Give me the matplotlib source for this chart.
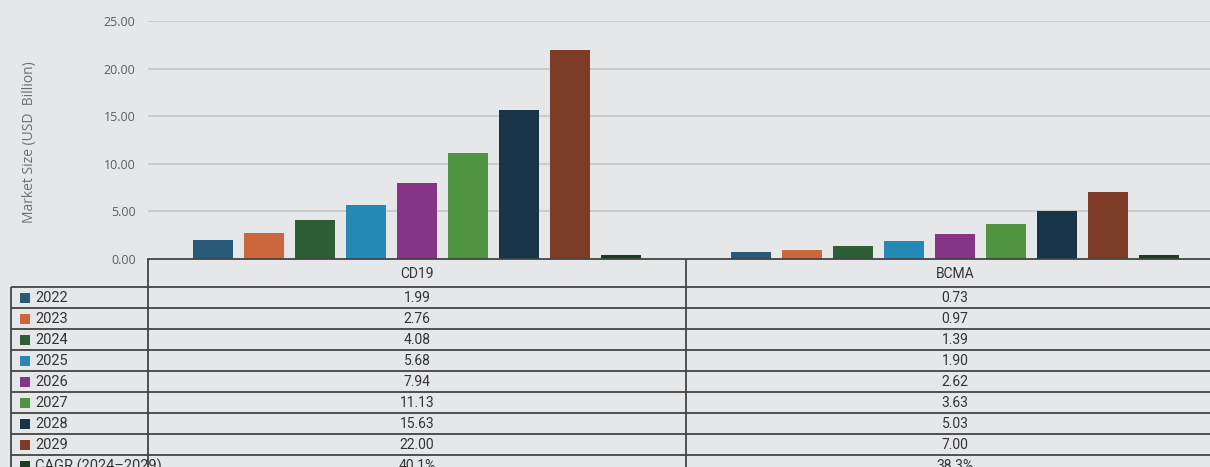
import matplotlib
matplotlib.use("Agg")
import matplotlib.pyplot as plt
from matplotlib.patches import Rectangle
import numpy as np

# ---- data -------------------------------------------------------------
categories = ["CD19", "BCMA"]
series_names = ["2022", "2023", "2024", "2025", "2026", "2027", "2028", "2029",
                "CAGR (2024\u20132029)"]
v2022 = [1.99, 0.73]
v2023 = [2.76, 0.97]
v2024 = [4.08, 1.39]
v2025 = [5.68, 1.90]
v2026 = [7.94, 2.62]
v2027 = [11.13, 3.63]
v2028 = [15.63, 5.03]
v2029 = [22.00, 7.00]
cagr_pct = [40.1, 38.3]
yticks = [0, 5, 10, 15, 20, 25]

series_values = [v2022, v2023, v2024, v2025, v2026, v2027, v2028, v2029,
                 [p / 100 for p in cagr_pct]]
series_labels = [[f"{v:.2f}" for v in s] for s in series_values[:-1]] + \
                [[f"{p:.1f}%" for p in cagr_pct]]
colors = ["#265a78", "#cc663d", "#2e5e35", "#2689b5", "#873487",
          "#4e9441", "#183449", "#7e3b27", "#1c3d22"]

BG = "#e6e7e9"
W, H = 1210, 467

fig = plt.figure(figsize=(W / 100, H / 100), dpi=100, facecolor=BG)

# ---- bar chart --------------------------------------------------------
ax_left, ax_right, ax_top, ax_bottom = 148, 1224, 21, 259
ax = fig.add_axes([ax_left / W, 1 - ax_bottom / H,
                   (ax_right - ax_left) / W, (ax_bottom - ax_top) / H])
ax.set_facecolor(BG)

x = np.arange(len(categories))
slot = 0.0948
bw = 0.0745
n = len(series_values)
for i, (vals, col) in enumerate(zip(series_values, colors)):
    ax.bar(x + (i - (n - 1) / 2) * slot, vals, width=bw, color=col,
           edgecolor="none", zorder=3)

ax.set_xlim(-0.5, 1.5)
ax.set_ylim(0, 25)
ax.set_yticks(yticks)
ax.set_yticklabels([f"{t:.2f}" for t in yticks], family="Open Sans",
                   fontsize=9, color="#5a5d61")
ax.set_xticks([])
ax.tick_params(axis="y", length=0, pad=9)
for t in yticks[1:]:
    ax.axhline(t, color="#c3c4c6", lw=1.1, zorder=1)
for s in ["top", "right", "left"]:
    ax.spines[s].set_visible(False)
ax.spines["bottom"].set_color("#444444")
ax.spines["bottom"].set_linewidth(1.3)
ax.spines["bottom"].set_zorder(4)

fig.text(30 / W, 1 - 142 / H, "Market Size (USD  Billion)", rotation=90,
         ha="center", va="center", family="Open Sans", fontsize=10,
         color="#6b6e72")

# ---- data table -------------------------------------------------------
tab = fig.add_axes([0, 0, 1, 1], facecolor="none")
tab.set_xlim(0, W)
tab.set_ylim(H, 0)
tab.axis("off")

line_kw = dict(color="#444444", lw=1.3, solid_capstyle="butt")
label_left = 11
col_edges = [148, 686, 1224]
header_top, header_bottom = 259, 286.5
row_h = 21.1
row_lines = [header_bottom + k * row_h for k in range(len(series_names) + 1)]

# horizontal rules
for yl in row_lines:
    tab.plot([label_left, col_edges[-1]], [yl, yl], **line_kw)
# vertical rules
for xe in col_edges:
    tab.plot([xe, xe], [header_top, H + 10], **line_kw)
tab.plot([label_left, label_left], [header_bottom, H + 10], **line_kw)

txt_kw = dict(family="Roboto", color="#333333", va="center")

# header with category names
for c, name in enumerate(categories):
    cx = (col_edges[c] + col_edges[c + 1]) / 2
    tab.text(cx, (header_top + header_bottom) / 2 + 1, name, ha="center",
             fontsize=10, **txt_kw)

# body rows
for r, (name, col, labels) in enumerate(zip(series_names, colors, series_labels)):
    yc = row_lines[r] + row_h / 2 + 0.5
    tab.add_patch(Rectangle((20, yc - 5), 10, 10, color=col, lw=0))
    tab.text(35, yc, name, ha="left", fontsize=10.5, **txt_kw)
    for c, lab in enumerate(labels):
        cx = (col_edges[c] + col_edges[c + 1]) / 2
        tab.text(cx, yc, lab, ha="center", fontsize=10, **txt_kw)

fig.savefig("out.png", dpi=100, facecolor=BG)
